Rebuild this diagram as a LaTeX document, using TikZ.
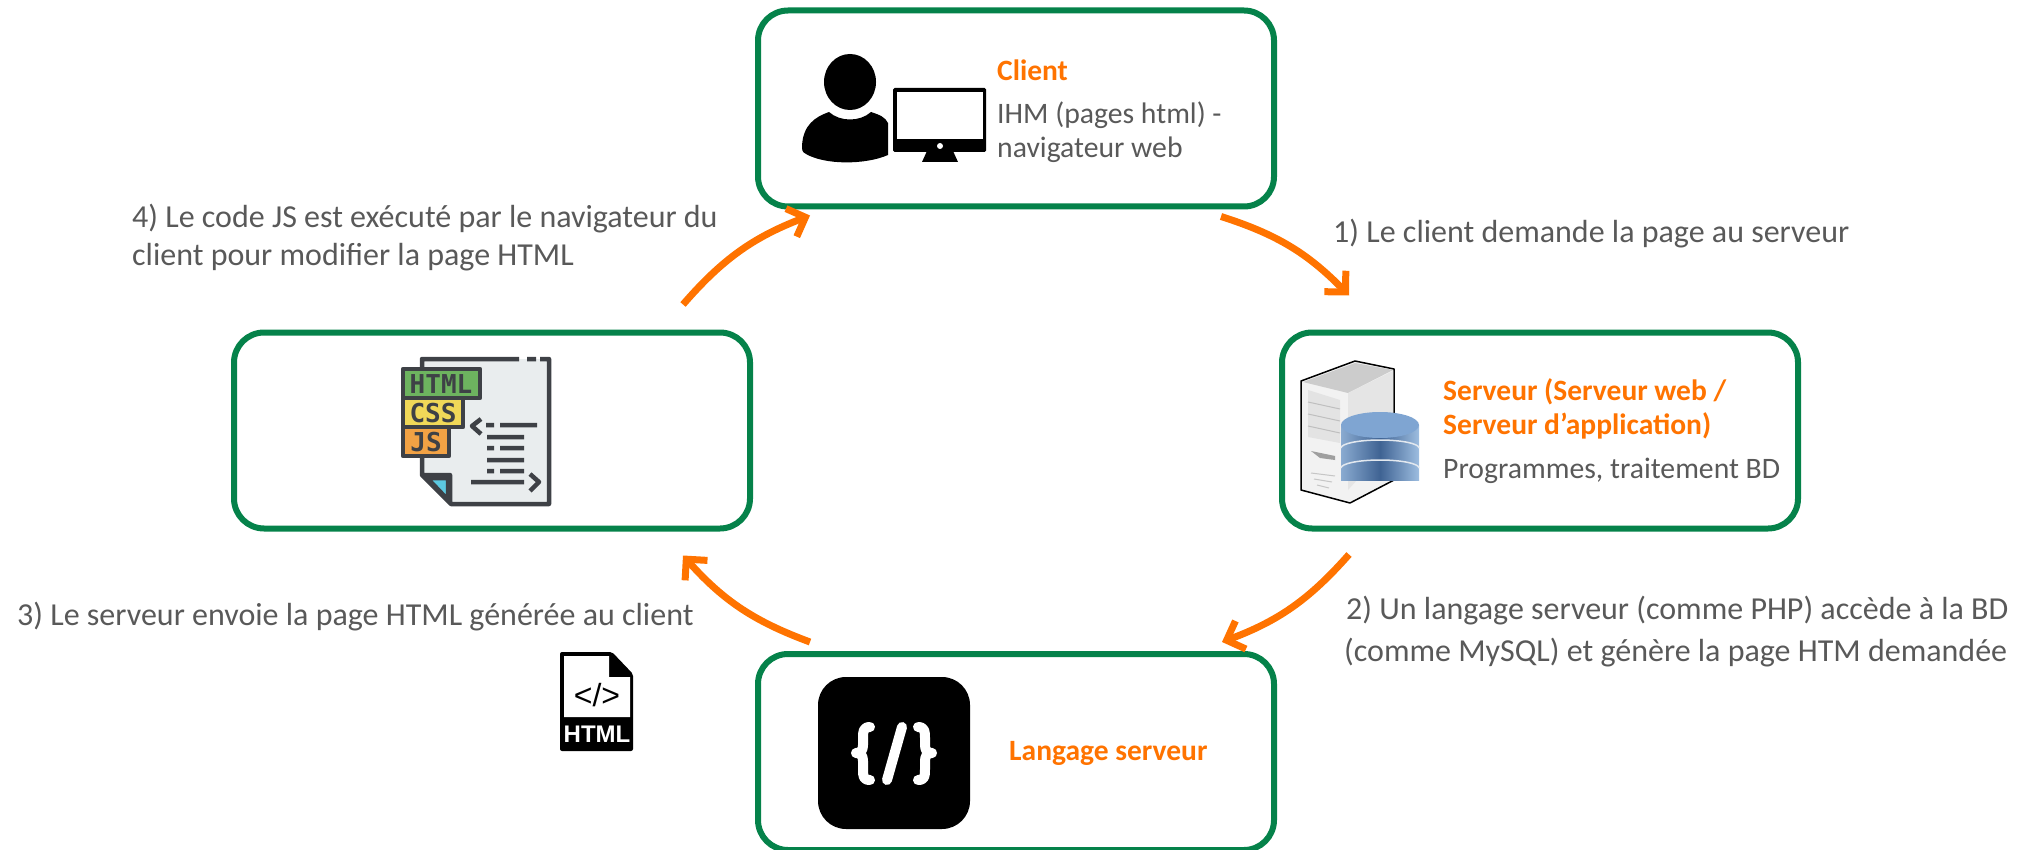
\documentclass[tikz,border=0pt]{standalone}
\usepackage{fontspec}
\setmainfont{Carlito}
\newfontfamily\monoG{DejaVu Sans Mono}
\newfontfamily\sansH{Liberation Sans}
\usetikzlibrary{arrows.meta}
\definecolor{vertbox}{HTML}{05824A}
\definecolor{orangeT}{HTML}{FF7300}
\definecolor{grisT}{HTML}{595959}
\definecolor{encre}{HTML}{3E4146}
\definecolor{feuille}{HTML}{E9EDEE}
\definecolor{ongletH}{HTML}{6DB35F}
\definecolor{ongletC}{HTML}{F0D858}
\definecolor{ongletJ}{HTML}{F2A244}
\definecolor{coin}{HTML}{5CC8E0}
\definecolor{bdclair}{HTML}{9DBDE0}
\definecolor{bdfonce}{HTML}{3F6393}
\definecolor{bdhaut}{HTML}{7FA5D2}
\tikzset{
  boite/.style={draw=vertbox,line width=6,rounded corners=30,minimum width=516,minimum height=196,outer sep=0,inner sep=0},
  fleche/.style={draw=orangeT,line width=7,-{Straight Barb[length=15,width=30,line width=7]},line cap=butt},
  titre/.style={text=orangeT,font=\fontsize{29.5}{34}\selectfont\bfseries,anchor=west,align=left,inner sep=0},
  texte/.style={text=grisT,font=\fontsize{29.7}{34}\selectfont,anchor=west,align=left,inner sep=0},
  etape/.style={text=grisT,font=\fontsize{32}{38}\selectfont,anchor=west,align=left,inner sep=0},
  trait/.style={draw=encre,line width=4.5,line cap=butt},
  onglet/.style={text=encre,font=\fontsize{26}{26}\selectfont\monoG\bfseries,inner sep=0},
}
\begin{document}
\begin{tikzpicture}[x=1pt,y=-1pt,line join=round]
\useasboundingbox (0,0) rectangle (2028,850);
% boites
\node[boite] (client) at (1016,108.5) {};
\node[boite] (pages) at (492,430.5) {};
\node[boite] (serveur) at (1540,430.5) {};
\node[boite] (langage) at (1016,752) {};
% fleches
\draw[fleche] ([shift={(-53,10)}]client.south east) to[bend left=14] ([shift={(67,-37)}]serveur.north west);
\draw[fleche] ([shift={(67,26)}]serveur.south west) to[bend left=14] ([shift={(-52,-12)}]langage.north east);
\draw[fleche] ([shift={(52,-12)}]langage.north west) to[bend left=14] ([shift={(-67,27)}]pages.south east);
\draw[fleche] ([shift={(-67,-28)}]pages.north east) to[bend left=14] ([shift={(52,9)}]client.south west);
% textes
\node[titre] (clientT) at (997,70) {Client};
\node[texte] (clientD) at (997,132) {IHM (pages html) -\\navigateur web};
\node[titre] (serveurT) at (1443,409) {Serveur (Serveur web /\\Serveur d’application)};
\node[texte] (serveurD) at (1443,471) {Programmes, traitement BD};
\node[titre] (langageT) at (1009,753) {Langage serveur};
\node[etape] (etape1) at (1333,234) {1) Le client demande la page au serveur};
\node[etape,font=\fontsize{32}{42}\selectfont] (etape2) at (1346,632) {2) Un langage serveur (comme PHP) accède à la BD\\\hspace{-2pt}(comme MySQL) et génère la page HTM demandée};
\node[etape] (etape3) at (17,617) {3) Le serveur envoie la page HTML générée au client};
\node[etape] (etape4) at (132,238) {4) Le code JS est exécuté par le navigateur du\\client pour modifier la page HTML};
% icone client
\fill (850,82) ellipse (26 and 28);
\fill (802,146) .. controls (803,125) and (815,117) .. (829,112) .. controls (840,122) and (860,122) .. (871,112) .. controls (880,115) and (885,117) .. (888,123) -- (888,155) .. controls (865,165) and (825,165) .. (806,154) .. controls (802,152) and (802,150) .. (802,146) -- cycle;
\fill[rounded corners=1.5] (893,88) rectangle (986,152);
\fill[white] (897,92) rectangle (983,139);
\fill (927,151) -- (953,151) -- (958,162) -- (922,162) -- cycle;
\fill[white] (940,146) circle (3);
% icone pages
\fill[feuille] (422,359) -- (548,359) -- (548,503) -- (452,503) -- (422,475) -- cycle;
\draw[trait] (422,368) -- (422,359) -- (519,359) (527,359) -- (536,359) (540,359) -- (549,359) -- (549,504) -- (451,504) -- (422,475) -- (422,456) (422,475) -- (450,475) -- (450,504);
\filldraw[fill=coin,draw=encre,line width=4.5] (427,478) -- (448,478) -- (448,500) -- cycle;
\filldraw[fill=ongletH,draw=encre,line width=4.5] (403,369) rectangle (480,398);
\filldraw[fill=ongletC,draw=encre,line width=4.5] (403,398) rectangle (463,427);
\filldraw[fill=ongletJ,draw=encre,line width=4.5] (403,427) rectangle (449,456);
\node[onglet] (tagH) at (441,384) {HTML};
\node[onglet] (tagC) at (433,413) {CSS};
\node[onglet] (tagJ) at (426,442) {JS};
\draw[trait] (481,419) -- (472,426) -- (481,434) (486,425) -- (494,425) (500,425) -- (537,425) (487,437) -- (524,437) (487,448) -- (494,448) (500,448) -- (524,448) (487,460) -- (524,460) (487,471) -- (494,471) (500,471) -- (524,471) (471,482) -- (524,482) (530,474) -- (539,482) -- (530,491);
% icone serveur
\filldraw[fill=gray!10,draw=black,line width=1.5] (1301,381) -- (1355,361) -- (1394,369) -- (1394,480) -- (1350,503) -- (1301,490) -- cycle;
\fill[gray!40] (1303,382) -- (1355,363) -- (1393,370) -- (1348,393) -- cycle;
\fill[gray!20] (1348,393) -- (1393,371) -- (1393,440) -- (1348,490) -- cycle;
\fill[gray!22] (1308,390) -- (1340,400) -- (1340,443) -- (1308,437) -- cycle;
\foreach \yy in {402,414,426}
  \draw[gray!50,line width=1] (1308,\yy) -- (1340,\yy+7);
\fill[gray!75] (1311,451) -- (1335,456) -- (1335,460) -- (1320,458) -- cycle;
\foreach \yy/\ww in {473/12,479/9,485/6}
  \draw[gray!45,line width=1] (1323-\ww,\yy) -- (1323+\ww,\yy+3);
\shade[left color=bdclair!80!bdfonce,right color=bdclair,middle color=bdfonce] (1341,425) rectangle (1419,480);
\shade[left color=bdclair!80!bdfonce,right color=bdclair,middle color=bdfonce] (1341,480) arc[start angle=180,end angle=360,x radius=39,y radius=13] -- cycle;
\fill[bdhaut] (1380,425) ellipse (39 and 13);
\foreach \yy in {448,468}
  \draw[white!85!bdfonce,line width=1.5] (1341,\yy) arc[start angle=180,end angle=360,x radius=39,y radius=8];
% icone langage
\fill[rounded corners=28] (818,677) rectangle (970,829);
\draw[white,line width=10,line cap=round] (902,727) -- (887,780);
\draw[white,line width=10,line cap=round] (870,727) .. controls (863,727) and (863,732) .. (863,738) -- (863,745) .. controls (863,750) and (861,753) .. (856,753) .. controls (861,753) and (863,756) .. (863,761) -- (863,769) .. controls (863,776) and (863,780) .. (870,780);
\draw[white,line width=10,line cap=round] (918,727) .. controls (925,727) and (925,732) .. (925,738) -- (925,745) .. controls (925,750) and (927,753) .. (932,753) .. controls (927,753) and (925,756) .. (925,761) -- (925,769) .. controls (925,776) and (925,780) .. (918,780);
% icone html
\fill[rounded corners=2] (560,652) -- (612,652) -- (633,674) -- (633,751) -- (560,751) -- cycle;
\fill[white] (564,656) -- (609,656) -- (609,677) -- (630,677) -- (630,717) -- (564,717) -- cycle;
\node[font=\fontsize{32}{32}\selectfont\sansH,inner sep=0] (balise) at (597,695) {</>};
\node[text=white,font=\fontsize{24}{24}\selectfont\sansH\bfseries,inner sep=0] (nomH) at (597,734) {HTML};
\end{tikzpicture}
\end{document}
